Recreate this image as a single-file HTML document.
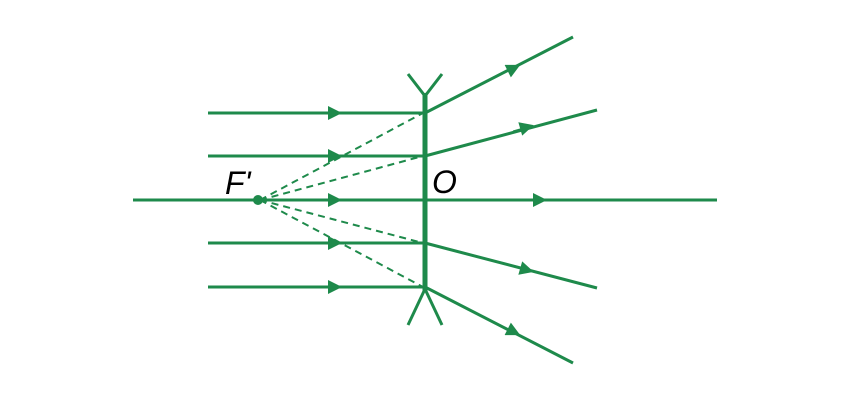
<!DOCTYPE html>
<html><head><style>html,body{margin:0;padding:0;background:#fff}</style></head>
<body>
<svg width="850" height="400" viewBox="0 0 850 400" xmlns="http://www.w3.org/2000/svg">
<defs>
<marker id="a" viewBox="0 0 10 10" refX="5" refY="5" markerWidth="20" markerHeight="14" markerUnits="userSpaceOnUse" orient="auto"><path d="M0,0 L10,5 L0,10 Z" fill="#1e8a4b"/></marker>
</defs>
<g stroke="#1e8a4b" stroke-width="3" fill="none">
<line x1="208" y1="113" x2="425" y2="113"/>
<line x1="208" y1="156" x2="425" y2="156"/>
<line x1="133" y1="200" x2="717" y2="200"/>
<line x1="208" y1="243" x2="425" y2="243"/>
<line x1="208" y1="287" x2="425" y2="287"/>
<line x1="425" y1="113" x2="573" y2="37"/>
<line x1="425" y1="156" x2="597" y2="110"/>
<line x1="425" y1="243" x2="597" y2="288"/>
<line x1="425" y1="287" x2="573" y2="363"/>
<line x1="425" y1="93" x2="425" y2="292" stroke-width="5"/>
<polyline points="408,74 425,96 442,74"/>
<polyline points="408,325 425,289 442,325"/>
</g>
<g stroke="#1e8a4b" stroke-width="2" stroke-dasharray="7,5" fill="none">
<line x1="260" y1="200" x2="423" y2="113"/>
<line x1="260" y1="200" x2="423" y2="156"/>
<line x1="260" y1="200" x2="423" y2="243"/>
<line x1="260" y1="200" x2="423" y2="287"/>
</g>
<g fill="none">
<line x1="320" y1="113" x2="335" y2="113" stroke="#1e8a4b" marker-end="url(#a)"/>
<line x1="320" y1="156" x2="335" y2="156" stroke="#1e8a4b" marker-end="url(#a)"/>
<line x1="320" y1="200" x2="335" y2="200" stroke="#1e8a4b" marker-end="url(#a)"/>
<line x1="320" y1="243" x2="335" y2="243" stroke="#1e8a4b" marker-end="url(#a)"/>
<line x1="320" y1="287" x2="335" y2="287" stroke="#1e8a4b" marker-end="url(#a)"/>
<line x1="525" y1="200" x2="540" y2="200" stroke="#1e8a4b" marker-end="url(#a)"/>
<line x1="500" y1="75" x2="514" y2="68" stroke="#1e8a4b" marker-end="url(#a)"/>
<line x1="513" y1="131" x2="527" y2="127" stroke="#1e8a4b" marker-end="url(#a)"/>
<line x1="513" y1="266" x2="527" y2="270" stroke="#1e8a4b" marker-end="url(#a)"/>
<line x1="500" y1="325" x2="514" y2="332" stroke="#1e8a4b" marker-end="url(#a)"/>
</g>
<circle cx="258" cy="200" r="5" fill="#1e8a4b"/>
<text x="225" y="194" font-family="Liberation Sans, sans-serif" font-style="italic" font-size="32" fill="#000">F'</text>
<text x="432" y="193" font-family="Liberation Sans, sans-serif" font-style="italic" font-size="32" fill="#000">O</text>
</svg>
</body></html>
